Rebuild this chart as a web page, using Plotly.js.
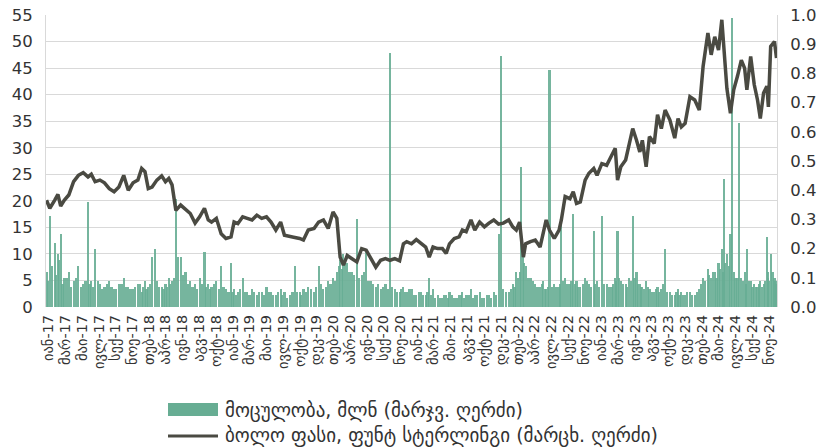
<!DOCTYPE html>
<html>
<head>
<meta charset="utf-8">
<script src="https://cdn.plot.ly/plotly-3.0.1.min.js"></script>
<style>
html,body{margin:0;padding:0;background:#fff;}
#chart{width:819px;height:448px;}
</style>
</head>
<body>
<div id="chart"></div>
<script>
const dates = [
"2017-01-03","2017-01-16","2017-02-04","2017-02-17","2017-02-28","2017-03-14","2017-04-01","2017-04-20","2017-05-09","2017-05-28",
"2017-06-16","2017-06-29","2017-07-14","2017-08-02","2017-08-20","2017-09-08","2017-09-27","2017-10-16","2017-11-04","2017-11-22",
"2017-12-11","2017-12-30","2018-01-14","2018-01-27","2018-02-09","2018-02-24","2018-03-15","2018-04-03","2018-04-18","2018-05-01",
"2018-05-14","2018-05-29","2018-06-17","2018-07-06","2018-07-25","2018-08-13","2018-08-31","2018-09-19","2018-10-04","2018-10-17",
"2018-11-05","2018-11-24","2018-12-13","2019-01-02","2019-01-14","2019-01-29","2019-02-17","2019-03-07","2019-03-26","2019-04-14",
"2019-05-03","2019-05-22","2019-06-09","2019-06-28","2019-07-17","2019-08-01","2019-08-24","2019-09-11","2019-09-30","2019-10-15",
"2019-11-03","2019-11-26","2019-12-14","2020-01-02","2020-01-21","2020-02-09","2020-02-24","2020-03-08","2020-03-21","2020-04-05",
"2020-04-24","2020-05-13","2020-06-01","2020-06-19","2020-07-08","2020-07-27","2020-08-15","2020-09-03","2020-09-21","2020-10-10",
"2020-10-29","2020-11-13","2020-11-26","2020-12-15","2021-01-03","2021-01-22","2021-02-09","2021-02-23","2021-03-10","2021-03-28",
"2021-04-16","2021-05-01","2021-05-14","2021-06-02","2021-06-21","2021-07-04","2021-07-19","2021-08-07","2021-08-22","2021-09-10",
"2021-09-29","2021-10-17","2021-11-05","2021-11-24","2021-12-13","2022-01-03","2022-01-19","2022-02-02","2022-02-15","2022-03-02",
"2022-03-11","2022-03-30","2022-04-18","2022-05-07","2022-05-20","2022-05-31","2022-06-13","2022-07-02","2022-07-21","2022-07-30",
"2022-08-14","2022-09-02","2022-09-15","2022-09-28","2022-10-13","2022-11-01","2022-11-16","2022-12-05","2022-12-18","2023-01-06",
"2023-01-25","2023-02-13","2023-02-28","2023-03-09","2023-03-22","2023-04-10","2023-04-23","2023-05-08","2023-05-23","2023-06-05",
"2023-06-15","2023-06-30","2023-07-13","2023-08-01","2023-08-14","2023-08-29","2023-09-13","2023-10-02","2023-10-21","2023-11-03",
"2023-11-16","2023-12-01","2023-12-20","2024-01-08","2024-01-26","2024-02-10","2024-02-29","2024-03-13","2024-03-27","2024-04-11",
"2024-04-24","2024-05-03","2024-05-14","2024-05-28","2024-06-10","2024-06-25","2024-07-10","2024-07-23","2024-08-01","2024-08-16",
"2024-08-30","2024-09-12","2024-09-23","2024-10-06","2024-10-19","2024-10-25","2024-11-03","2024-11-18","2024-11-26"
];

const price = [
20.1,18.6,20.1,21.2,19.0,20.1,21.1,23.6,24.8,25.3,
24.5,25.0,23.6,23.9,23.4,22.3,21.7,22.6,24.8,22.0,
23.4,23.9,26.1,25.5,22.3,22.6,23.9,24.7,23.6,24.2,
23.0,18.2,19.2,18.4,17.6,15.8,17.0,18.6,16.4,16.0,
16.7,13.8,12.9,13.2,16.0,15.7,17.0,16.7,16.4,17.3,
16.7,17.0,16.0,14.5,16.0,13.5,13.2,13.1,12.9,12.6,
14.5,14.8,16.0,16.4,14.8,17.9,16.7,9.4,7.9,9.7,
9.1,8.5,11.0,10.7,9.1,7.5,8.8,9.1,8.8,9.1,
8.7,11.9,12.3,11.9,12.7,11.9,11.3,9.4,11.3,11.0,
11.0,10.1,11.9,12.9,13.2,14.5,14.2,16.4,14.5,16.0,
15.1,15.8,16.4,15.6,15.8,16.4,15.1,14.5,16.0,9.4,
11.9,12.3,12.6,11.3,14.5,16.4,14.5,12.9,14.5,16.4,
20.8,20.4,21.7,19.5,19.8,23.9,25.2,26.1,24.8,27.0,
26.7,28.6,29.9,23.9,26.4,27.7,30.2,33.6,31.4,29.2,
31.4,26.4,32.1,30.8,36.2,33.6,37.1,35.2,31.8,35.5,
33.9,34.6,39.6,39.0,37.1,45.3,51.6,47.5,50.9,48.4,
54.1,47.2,41.2,36.5,40.9,43.5,46.5,45.0,40.9,47.2,
41.9,39.0,35.5,40.3,41.6,37.7,49.1,50.0,46.9
];

const volDates = [
"2017-01-03","2017-01-10","2017-01-16","2017-01-26","2017-02-04","2017-02-11","2017-02-17","2017-02-23","2017-02-28","2017-03-07",
"2017-03-14","2017-03-23","2017-04-01","2017-04-10","2017-04-20","2017-04-30","2017-05-09","2017-05-18","2017-05-28","2017-06-06",
"2017-06-16","2017-06-22","2017-06-29","2017-07-06","2017-07-14","2017-07-24","2017-08-02","2017-08-11","2017-08-20","2017-08-29",
"2017-09-08","2017-09-17","2017-09-27","2017-10-06","2017-10-16","2017-10-26","2017-11-04","2017-11-13","2017-11-22","2017-12-01",
"2017-12-11","2017-12-20","2017-12-30","2018-01-07","2018-01-14","2018-01-20","2018-01-27","2018-02-02","2018-02-09","2018-02-16",
"2018-02-24","2018-03-06","2018-03-15","2018-03-24","2018-04-03","2018-04-10","2018-04-18","2018-04-24","2018-05-01","2018-05-07",
"2018-05-14","2018-05-21","2018-05-29","2018-06-07","2018-06-17","2018-06-26","2018-07-06","2018-07-15","2018-07-25","2018-08-03",
"2018-08-13","2018-08-22","2018-08-31","2018-09-09","2018-09-19","2018-09-26","2018-10-04","2018-10-10","2018-10-17","2018-10-26",
"2018-11-05","2018-11-14","2018-11-24","2018-12-03","2018-12-13","2018-12-23","2019-01-02","2019-01-08","2019-01-14","2019-01-21",
"2019-01-29","2019-02-07","2019-02-17","2019-02-26","2019-03-07","2019-03-16","2019-03-26","2019-04-04","2019-04-14","2019-04-23",
"2019-05-03","2019-05-12","2019-05-22","2019-05-31","2019-06-09","2019-06-18","2019-06-28","2019-07-07","2019-07-17","2019-07-24",
"2019-08-01","2019-08-12","2019-08-24","2019-09-02","2019-09-11","2019-09-20","2019-09-30","2019-10-07","2019-10-15","2019-10-24",
"2019-11-03","2019-11-14","2019-11-26","2019-12-05","2019-12-14","2019-12-23","2020-01-02","2020-01-11","2020-01-21","2020-01-30",
"2020-02-09","2020-02-16","2020-02-24","2020-03-02","2020-03-08","2020-03-14","2020-03-21","2020-03-28","2020-04-05","2020-04-14",
"2020-04-24","2020-05-03","2020-05-13","2020-05-22","2020-06-01","2020-06-10","2020-06-19","2020-06-28","2020-07-08","2020-07-17",
"2020-07-27","2020-08-05","2020-08-15","2020-08-24","2020-09-03","2020-09-12","2020-09-21","2020-09-30","2020-10-10","2020-10-19",
"2020-10-29","2020-11-05","2020-11-13","2020-11-19","2020-11-26","2020-12-05","2020-12-15","2020-12-24","2021-01-03","2021-01-12",
"2021-01-22","2021-01-31","2021-02-09","2021-02-16","2021-02-23","2021-03-02","2021-03-10","2021-03-19","2021-03-28","2021-04-06",
"2021-04-16","2021-04-23","2021-05-01","2021-05-07","2021-05-14","2021-05-23","2021-06-02","2021-06-11","2021-06-21","2021-06-27",
"2021-07-04","2021-07-11","2021-07-19","2021-07-28","2021-08-07","2021-08-14","2021-08-22","2021-08-31","2021-09-10","2021-09-19",
"2021-09-29","2021-10-08","2021-10-17","2021-10-26","2021-11-05","2021-11-14","2021-11-24","2021-12-03","2021-12-13","2021-12-23",
"2022-01-03","2022-01-11","2022-01-19","2022-01-26","2022-02-02","2022-02-08","2022-02-15","2022-02-22","2022-03-02","2022-03-06",
"2022-03-11","2022-03-20","2022-03-30","2022-04-08","2022-04-18","2022-04-27","2022-05-07","2022-05-13","2022-05-20","2022-05-25",
"2022-05-31","2022-06-06","2022-06-13","2022-06-22","2022-07-02","2022-07-11","2022-07-21","2022-07-25","2022-07-30","2022-08-06",
"2022-08-14","2022-08-23","2022-09-02","2022-09-08","2022-09-15","2022-09-21","2022-09-28","2022-10-05","2022-10-13","2022-10-23",
"2022-11-01","2022-11-08","2022-11-16","2022-11-25","2022-12-05","2022-12-11","2022-12-18","2022-12-27","2023-01-06","2023-01-15",
"2023-01-25","2023-02-03","2023-02-13","2023-02-20","2023-02-28","2023-03-04","2023-03-09","2023-03-15","2023-03-22","2023-03-31",
"2023-04-10","2023-04-16","2023-04-23","2023-04-30","2023-05-08","2023-05-15","2023-05-23","2023-05-29","2023-06-05","2023-06-10",
"2023-06-15","2023-06-22","2023-06-30","2023-07-06","2023-07-13","2023-07-22","2023-08-01","2023-08-07","2023-08-14","2023-08-21",
"2023-08-29","2023-09-05","2023-09-13","2023-09-22","2023-10-02","2023-10-11","2023-10-21","2023-10-28","2023-11-03","2023-11-09",
"2023-11-16","2023-11-23","2023-12-01","2023-12-10","2023-12-20","2023-12-29","2024-01-08","2024-01-17","2024-01-26","2024-02-02",
"2024-02-10","2024-02-19","2024-02-29","2024-03-06","2024-03-13","2024-03-20","2024-03-27","2024-04-03","2024-04-11","2024-04-17",
"2024-04-24","2024-04-28","2024-05-03","2024-05-08","2024-05-14","2024-05-21","2024-05-28","2024-06-03","2024-06-10","2024-06-17",
"2024-06-25","2024-07-02","2024-07-10","2024-07-16","2024-07-23","2024-07-27","2024-08-01","2024-08-08","2024-08-16","2024-08-23",
"2024-08-30","2024-09-05","2024-09-12","2024-09-17","2024-09-23","2024-09-29","2024-10-06","2024-10-12","2024-10-19","2024-10-22",
"2024-10-25","2024-10-29","2024-11-03","2024-11-10","2024-11-18","2024-11-22","2024-11-26"
];

const volume = [
0.12,0.09,0.31,0.14,0.22,0.11,0.18,0.16,0.25,0.08,
0.10,0.10,0.12,0.07,0.09,0.10,0.14,0.07,0.08,0.09,
0.36,0.08,0.09,0.07,0.20,0.09,0.08,0.06,0.07,0.08,
0.09,0.07,0.06,0.06,0.08,0.08,0.10,0.07,0.07,0.06,
0.06,0.07,0.08,0.08,0.05,0.07,0.09,0.06,0.07,0.08,
0.17,0.20,0.09,0.07,0.07,0.06,0.08,0.07,0.10,0.08,
0.09,0.10,0.37,0.17,0.17,0.11,0.12,0.08,0.09,0.07,
0.08,0.06,0.10,0.08,0.19,0.07,0.08,0.06,0.07,0.08,
0.09,0.06,0.14,0.07,0.06,0.05,0.15,0.05,0.06,0.04,
0.05,0.06,0.10,0.05,0.05,0.04,0.06,0.05,0.04,0.05,
0.05,0.04,0.07,0.05,0.05,0.04,0.04,0.05,0.06,0.04,
0.05,0.03,0.04,0.05,0.14,0.05,0.05,0.04,0.06,0.05,
0.07,0.06,0.05,0.07,0.14,0.08,0.06,0.07,0.09,0.08,
0.10,0.09,0.12,0.14,0.16,0.13,0.18,0.15,0.15,0.12,
0.12,0.11,0.30,0.10,0.11,0.12,0.20,0.09,0.09,0.08,
0.07,0.08,0.06,0.07,0.08,0.06,0.87,0.07,0.06,0.05,
0.05,0.06,0.07,0.05,0.05,0.06,0.06,0.04,0.04,0.05,
0.05,0.04,0.04,0.05,0.10,0.04,0.06,0.03,0.04,0.03,
0.03,0.04,0.04,0.03,0.05,0.04,0.03,0.03,0.04,0.04,
0.05,0.03,0.04,0.04,0.06,0.03,0.04,0.04,0.05,0.03,
0.03,0.04,0.04,0.03,0.05,0.04,0.25,0.86,0.06,0.05,
0.05,0.06,0.08,0.07,0.12,0.10,0.12,0.48,0.20,0.15,
0.14,0.10,0.10,0.09,0.08,0.07,0.07,0.08,0.09,0.06,
0.06,0.07,0.81,0.07,0.08,0.07,0.07,0.08,0.30,0.09,
0.10,0.08,0.08,0.09,0.32,0.08,0.09,0.07,0.07,0.08,
0.10,0.09,0.08,0.07,0.26,0.08,0.09,0.07,0.31,0.08,
0.08,0.07,0.07,0.08,0.10,0.09,0.26,0.10,0.09,0.08,
0.08,0.07,0.10,0.09,0.31,0.10,0.12,0.08,0.08,0.07,
0.07,0.06,0.09,0.07,0.06,0.05,0.05,0.06,0.07,0.05,
0.06,0.08,0.20,0.05,0.05,0.04,0.04,0.05,0.06,0.04,
0.05,0.04,0.04,0.05,0.05,0.04,0.04,0.05,0.06,0.08,
0.10,0.09,0.13,0.11,0.10,0.12,0.12,0.10,0.15,0.13,
0.20,0.12,0.44,0.15,0.18,0.14,0.25,0.99,0.12,0.10,
0.10,0.63,0.10,0.09,0.12,0.08,0.20,0.09,0.09,0.07,
0.08,0.07,0.07,0.08,0.09,0.07,0.08,0.09,0.24,0.10,
0.12,0.09,0.18,0.12,0.10,0.09,0.08
];

const tickDates = [
"2017-01-11","2017-03-18","2017-05-23","2017-07-29","2017-10-03","2017-12-08",
"2018-02-12","2018-04-19","2018-06-25","2018-08-30","2018-11-04",
"2019-01-09","2019-03-16","2019-05-22","2019-07-27","2019-10-01","2019-12-06",
"2020-02-10","2020-04-17","2020-06-22","2020-08-27","2020-11-01",
"2021-01-06","2021-03-13","2021-05-18","2021-07-24","2021-09-28","2021-12-03",
"2022-02-08","2022-04-15","2022-06-20","2022-08-25","2022-10-30",
"2023-01-05","2023-03-12","2023-05-17","2023-07-22","2023-09-26","2023-12-02",
"2024-02-06","2024-04-12","2024-06-17","2024-08-22","2024-10-27"
];
const tickLabels = [
"იან-17","მარ-17","მაი-17","ივლ-17","სექ-17","ნოე-17",
"თებ-18","აპრ-18","ივნ-18","აგვ-18","ოქტ-18",
"იან-19","მარ-19","მაი-19","ივლ-19","ოქტ-19","დეკ-19",
"თებ-20","აპრ-20","ივნ-20","სექ-20","ნოე-20",
"იან-21","მარ-21","მაი-21","აგვ-21","ოქტ-21","დეკ-21",
"თებ-22","აპრ-22","ივლ-22","სექ-22","ნოე-22",
"იან-23","მარ-23","ივნ-23","აგვ-23","ოქტ-23","დეკ-23",
"თებ-24","მაი-24","ივლ-24","სექ-24","ნოე-24"
];

const volumeName = "მოცულობა, მლნ (მარჯვ. ღერძი)";
const priceName = "ბოლო ფასი, ფუნტ სტერლინგი (მარცხ. ღერძი)";

const barColor = "#67ad93";
const lineColor = "#4a4a42";
const FONT = "DejaVu Sans, Noto Sans, sans-serif";

const traces = [
  {
    type: "bar", name: volumeName, x: volDates, y: volume, yaxis: "y",
    marker: {color: barColor, opacity: 0.9, line: {width: 0}},
    width: 8.5 * 86400000, showlegend: false
  },
  {
    type: "scatter", mode: "lines", name: priceName, x: dates, y: price, yaxis: "y2",
    line: {color: lineColor, width: 3.5}, showlegend: false
  }
];

const toX = px => (px - 46) / 731;
const toY = py => (307 - py) / 292;

const layout = {
  width: 819, height: 448,
  margin: {l: 46, r: 42, t: 15, b: 141},
  paper_bgcolor: "#fff", plot_bgcolor: "#fff",
  font: {family: FONT, color: "#333", size: 15},
  showlegend: false,
  bargap: 0,
  xaxis: {
    type: "date", range: ["2017-01-01", "2024-11-28"],
    tickmode: "array", tickvals: tickDates, ticktext: tickLabels,
    tickangle: -90, tickfont: {size: 14.5, color: "#333", family: FONT},
    showgrid: false, zeroline: false, showline: false, ticks: "",
    ticklabelstandoff: 4, automargin: false
  },
  yaxis: {
    range: [0, 1.0], dtick: 0.1, tick0: 0, tickformat: ".1f",
    side: "right", showgrid: false, zeroline: false,
    showline: true, linecolor: "#d9d9d9", linewidth: 1,
    ticks: "", tickfont: {size: 16.5, color: "#333", family: FONT},
    ticklabelstandoff: 9, automargin: false
  },
  yaxis2: {
    range: [0, 55], dtick: 5, tick0: 0,
    side: "left", overlaying: "y",
    showgrid: true, gridcolor: "#d9d9d9", gridwidth: 1,
    zeroline: false, showline: true, linecolor: "#d9d9d9", linewidth: 1,
    ticks: "", tickfont: {size: 16.5, color: "#333", family: FONT},
    ticklabelstandoff: 9, automargin: false
  },
  shapes: [
    {type: "rect", xref: "paper", yref: "paper",
     x0: toX(168), x1: toX(218), y0: toY(416), y1: toY(403),
     fillcolor: barColor, line: {width: 0}},
    {type: "line", xref: "paper", yref: "paper",
     x0: toX(168), x1: toX(218), y0: toY(436), y1: toY(436),
     line: {color: lineColor, width: 3}}
  ],
  annotations: [
    {xref: "paper", yref: "paper", x: toX(223), y: toY(410), xanchor: "left", yanchor: "middle",
     text: volumeName, showarrow: false, font: {size: 19, color: "#333", family: FONT}},
    {xref: "paper", yref: "paper", x: toX(223), y: toY(436), xanchor: "left", yanchor: "middle",
     text: priceName, showarrow: false, font: {size: 19, color: "#333", family: FONT}}
  ]
};

Plotly.newPlot("chart", traces, layout, {displayModeBar: false, staticPlot: true});
</script>
</body>
</html>
